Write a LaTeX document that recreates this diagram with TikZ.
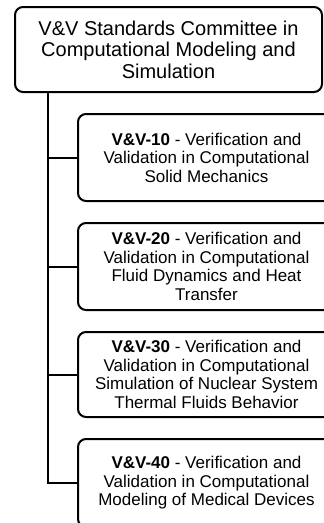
\documentclass[tikz,border=0pt]{standalone}
\usepackage{fontspec}
\setmainfont{Liberation Sans}
\begin{document}
\begin{tikzpicture}[x=1pt,y=-1pt,
  box/.style={draw=black, line width=2pt, rounded corners=8pt, fill=white, align=center, inner sep=0pt},
  topbox/.style={box, minimum width=307pt, minimum height=85pt, font=\fontsize{20}{21.5}\selectfont},
  subbox/.style={box, minimum width=257pt, font=\fontsize{17}{18.5}\selectfont},
  link/.style={draw=black, line width=2pt}]
\useasboundingbox (0,0) rectangle (324,523);
\clip (0,0) rectangle (324,523);
\fill[white] (0,0) rectangle (324,523);
\node[topbox] (top) at (168.5,49.5) {V\&V Standards Committee in\\Computational Modeling and\\Simulation};
\node[subbox, minimum height=87pt] (c1) at (206.5,157.5) {\textbf{V\&V-10} - Verification and\\Validation in Computational\\Solid Mechanics};
\node[subbox, minimum height=87pt] (c2) at (206.5,266.5) {\textbf{V\&V-20} - Verification and\\Validation in Computational\\Fluid Dynamics and Heat\\Transfer};
\node[subbox, minimum height=85pt] (c3) at (206.5,374.5) {\textbf{V\&V-30} - Verification and\\Validation in Computational\\Simulation of Nuclear System\\Thermal Fluids Behavior};
\node[subbox, minimum height=88pt] (c4) at (206.5,483) {\textbf{V\&V-40} - Verification and\\Validation in Computational\\Modeling of Medical Devices};
\coordinate (t) at (48,92);
\draw[link] (t) |- (c4.west);
\draw[link] (t |- c1.west) -- (c1.west);
\draw[link] (t |- c2.west) -- (c2.west);
\draw[link] (t |- c3.west) -- (c3.west);
\end{tikzpicture}
\end{document}
